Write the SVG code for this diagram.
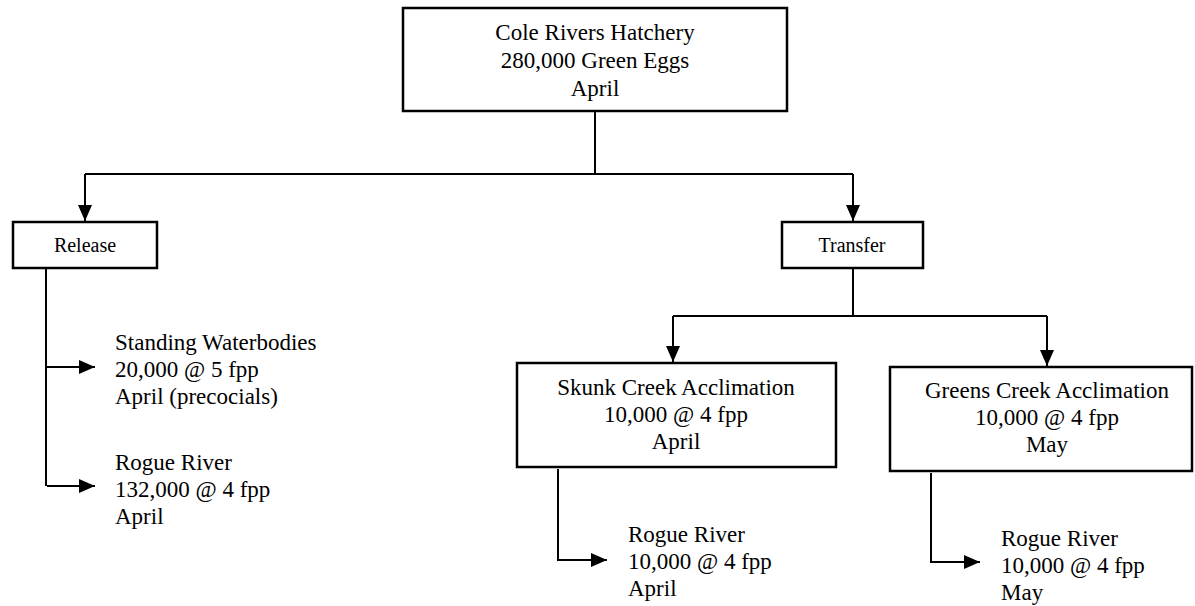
<svg xmlns="http://www.w3.org/2000/svg" width="1195" height="606" viewBox="0 0 1195 606">
<style>
.box{fill:#fff;stroke:#000;stroke-width:2.5}
.ln{fill:none;stroke:#000;stroke-width:2}
text{font-family:"Liberation Serif","Times New Roman",serif;font-size:23px;fill:#000}
.c{text-anchor:middle}
.s{font-size:20px}
</style>
<defs>
<marker id="ahb" markerWidth="16" markerHeight="14" refX="16" refY="7" orient="auto" markerUnits="userSpaceOnUse" viewBox="0 0 16 14">
<path d="M0,0 L16,7 L0,14 Z" fill="#000"/>
</marker>
</defs>
<g id="connectors">
<path class="ln" d="M595,111 V174"/>
<path class="ln" d="M85,174 H853"/>
<path class="ln" d="M85,174 V221" marker-end="url(#ahb)"/>
<path class="ln" d="M853,174 V221" marker-end="url(#ahb)"/>
<path class="ln" d="M46,268 V486"/>
<path class="ln" d="M47,367 H95" marker-end="url(#ahb)"/>
<path class="ln" d="M47,486 H95" marker-end="url(#ahb)"/>
<path class="ln" d="M853,268 V316"/>
<path class="ln" d="M673,316 H1047"/>
<path class="ln" d="M673,316 V362" marker-end="url(#ahb)"/>
<path class="ln" d="M1047,316 V366" marker-end="url(#ahb)"/>
<path class="ln" d="M558,469 V560 H607" marker-end="url(#ahb)"/>
<path class="ln" d="M931,473 V562 H980" marker-end="url(#ahb)"/>
</g>
<g id="hatchery">
<rect class="box" x="403" y="8" width="384" height="103"/>
<text class="c" x="595" y="40">Cole Rivers Hatchery</text>
<text class="c" x="595" y="68">280,000 Green Eggs</text>
<text class="c" x="595" y="96">April</text>
</g>
<g id="release">
<rect class="box" x="13" y="222" width="144" height="46"/>
<text class="c s" x="85" y="252">Release</text>
</g>
<g id="transfer">
<rect class="box" x="782" y="222" width="141" height="46"/>
<text class="c s" x="852" y="252">Transfer</text>
</g>
<g id="standing">
<text x="115" y="350">Standing Waterbodies</text>
<text x="115" y="377">20,000 @ 5 fpp</text>
<text x="115" y="404">April (precocials)</text>
</g>
<g id="rogue-release">
<text x="115" y="470">Rogue River</text>
<text x="115" y="497">132,000 @ 4 fpp</text>
<text x="115" y="524">April</text>
</g>
<g id="skunk">
<rect class="box" x="517" y="363" width="319" height="104"/>
<text class="c" x="676" y="395">Skunk Creek Acclimation</text>
<text class="c" x="676" y="422">10,000 @ 4 fpp</text>
<text class="c" x="676" y="449">April</text>
</g>
<g id="greens">
<rect class="box" x="890" y="367" width="302" height="104"/>
<text class="c" x="1047" y="398">Greens Creek Acclimation</text>
<text class="c" x="1047" y="425">10,000 @ 4 fpp</text>
<text class="c" x="1047" y="452">May</text>
</g>
<g id="rogue-skunk">
<text x="628" y="542">Rogue River</text>
<text x="628" y="569">10,000 @ 4 fpp</text>
<text x="628" y="596">April</text>
</g>
<g id="rogue-greens">
<text x="1001" y="546">Rogue River</text>
<text x="1001" y="573">10,000 @ 4 fpp</text>
<text x="1001" y="600">May</text>
</g>
</svg>
